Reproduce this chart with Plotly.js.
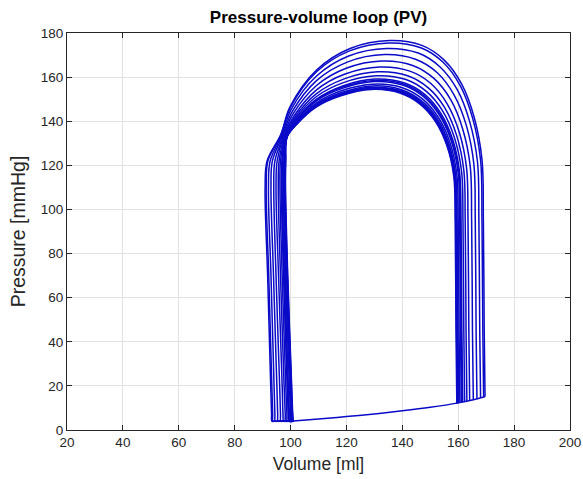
<!DOCTYPE html>
<html>
<head>
<meta charset="utf-8">
<script src="https://cdn.plot.ly/plotly-3.0.1.min.js"></script>
<style>html,body{margin:0;padding:0;background:#fff;}#chart{width:583px;height:479px;}</style>
</head>
<body>
<div id="chart"></div>
<script>
// Common diastolic filling curve
var fillVolume   = [101.0, 110, 120, 130, 140, 150, 160, 165, 169.5];
var fillPressure = [4.1, 5.0, 6.1, 7.3, 8.7, 10.3, 12.3, 13.6, 15.1];

// Each cardiac cycle: end-diastole, up the right side, over the ejection arc,
// down the left side to the start of filling
var loopVolumes = [
  [169.6,169.3,169.0,168.5,165.7,161.2,155.0,147.0,135.5,121.3,109.3,99.8,96.5,91.6,90.9,91.8,92.9,93.2,93.3,94.1,101.0],
  [169.1,168.8,168.5,168.0,165.2,160.7,154.6,146.6,135.2,121.1,109.3,99.9,96.6,91.9,91.3,92.2,93.3,93.6,93.7,94.5,101.0],
  [168.0,167.7,167.4,166.9,164.1,159.7,153.6,145.7,134.4,120.8,109.3,100.2,96.9,92.7,92.1,93.0,94.1,94.4,94.5,95.3,101.0],
  [166.7,166.4,166.1,165.6,162.9,158.5,152.5,144.7,133.6,120.3,109.3,100.6,97.2,93.5,93.0,93.9,95.1,95.4,95.5,96.3,101.0],
  [165.4,165.1,164.8,164.3,161.6,157.3,151.3,143.7,132.7,119.9,109.3,100.9,97.5,94.4,94.0,94.8,96.1,96.4,96.5,97.3,101.0],
  [164.1,163.8,163.5,163.0,160.4,156.1,150.3,142.7,131.9,119.5,109.3,101.3,97.7,95.2,94.8,95.7,97.0,97.3,97.5,98.3,101.0],
  [163.1,162.8,162.5,162.0,159.4,155.2,149.4,141.9,131.2,119.2,109.3,101.5,98.0,95.9,95.6,96.4,97.7,98.1,98.2,99.0,101.0],
  [162.3,162.0,161.7,161.2,158.6,154.4,148.7,141.3,130.7,118.9,109.3,101.7,98.2,96.4,96.2,97.0,98.3,98.7,98.8,99.6,101.0],
  [161.6,161.3,161.0,160.5,158.0,153.8,148.1,140.8,130.2,118.7,109.3,101.9,98.3,96.9,96.7,97.5,98.8,99.2,99.4,101.0],
  [161.4,161.1,160.8,160.3,157.7,153.5,147.8,140.6,130.0,118.6,109.3,102.0,98.4,97.1,96.9,97.7,99.0,99.4,99.6,101.0],
  [161.1,160.8,160.5,160.0,157.5,153.3,147.6,140.4,129.9,118.5,109.3,102.1,98.4,97.2,97.0,97.9,99.2,99.6,99.8,101.0],
  [160.6,160.3,160.0,159.5,157.0,152.8,147.2,140.0,129.5,118.4,109.3,102.2,98.5,97.6,97.4,98.2,99.6,100.0,100.2,101.0],
  [160.2,159.9,159.6,159.1,156.6,152.5,146.8,139.7,129.3,118.2,109.3,102.3,98.6,97.8,97.7,98.5,99.9,100.3,100.5,101.0],
  [160.0,159.7,159.4,158.9,156.3,152.2,146.6,139.5,129.1,118.2,109.3,102.4,98.7,98.0,97.9,98.7,100.1,100.5,100.7,101.0],
  [159.8,159.5,159.2,158.7,156.2,152.1,146.5,139.3,129.0,118.1,109.3,102.4,98.7,98.1,98.0,98.8,100.2,100.6,100.8,101.0],
  [159.7,159.4,159.1,158.6,156.0,151.9,146.3,139.2,128.9,118.0,109.3,102.5,98.8,98.2,98.1,98.9,100.3,100.7,100.9,101.0],
  [159.5,159.2,158.9,158.4,155.9,151.8,146.2,139.1,128.8,118.0,109.3,102.5,98.8,98.3,98.2,99.0,100.4,100.8,101.0]
];
var loopPressures = [
  [15.1,45,95,122.7,141.8,156.9,167.7,174.4,176.6,173.0,163.2,146.5,134.0,122,110,70,20,7,4.0,3.98,4.1],
  [14.9,45,95,122.3,141.2,156.1,166.7,173.3,175.5,171.9,162.4,146.1,133.9,122,110,70,20,7,4.0,3.98,4.1],
  [14.6,45,95,121.5,139.8,154.2,164.5,170.9,173.0,169.6,160.5,145.3,133.8,122,110,70,20,7,4.0,3.98,4.1],
  [14.2,45,95,120.5,138.1,152.0,162.0,168.1,170.2,166.8,158.4,144.3,133.7,122,110,70,20,7,4.0,3.98,4.1],
  [13.8,45,95,119.5,136.5,149.8,159.4,165.3,167.3,164.0,156.2,143.3,133.6,122,110,70,20,7,4.0,3.98,4.1],
  [13.4,45,95,118.6,134.9,147.8,157.0,162.7,164.6,161.4,154.2,142.5,133.5,122,110,70,20,7,4.0,3.98,4.1],
  [13.1,45,95,117.8,133.7,146.1,155.0,160.6,162.4,159.2,152.5,141.7,133.4,122,110,70,20,7,4.0,3.98,4.1],
  [12.9,45,95,117.2,132.7,144.7,153.4,158.9,160.6,157.5,151.2,141.1,133.3,122,110,70,20,7,4.0,3.98,4.1],
  [12.7,45,95,116.7,131.8,143.6,152.1,157.3,159.1,156.0,150.0,140.6,133.2,122,110,70,20,7,4.0,4.1],
  [12.6,45,95,116.5,131.5,143.1,151.6,156.8,158.5,155.5,149.6,140.4,133.2,122,110,70,20,7,4.0,4.1],
  [12.5,45,95,116.3,131.1,142.7,151.1,156.3,158.0,154.9,149.2,140.2,133.2,122,110,70,20,7,4.0,4.1],
  [12.3,45,95,115.9,130.5,141.9,150.1,155.2,156.8,153.9,148.3,139.8,133.1,122,110,70,20,7,4.0,4.1],
  [12.2,45,95,115.6,130.0,141.2,149.3,154.3,156.0,153.0,147.7,139.5,133.1,122,110,70,20,7,4.0,4.1],
  [12.1,45,95,115.4,129.7,140.8,148.8,153.8,155.4,152.5,147.3,139.3,133.0,122,110,70,20,7,4.0,4.1],
  [12.1,45,95,115.3,129.5,140.5,148.5,153.5,155.1,152.1,147.0,139.2,133.0,122,110,70,20,7,4.0,4.1],
  [12.05,45,95,115.2,129.3,140.3,148.2,153.1,154.7,151.8,146.8,139.1,133.0,122,110,70,20,7,4.0,4.1],
  [12.0,45,95,115.1,129.1,140.0,147.9,152.8,154.4,151.5,146.5,139.0,133.0,122,110,70,20,7,4.1]
];

var xTicks = [20, 40, 60, 80, 100, 120, 140, 160, 180, 200];
var yTicks = [0, 20, 40, 60, 80, 100, 120, 140, 160, 180];

var lineColor = 'rgb(10,10,200)';
var lineStyle = {color: lineColor, width: 1.5, shape: 'spline', smoothing: 1};
var traces = [{
  x: fillVolume, y: fillPressure, type: 'scatter', mode: 'lines',
  line: lineStyle, hoverinfo: 'skip'
}];
for (var i = 0; i < loopVolumes.length; i++) {
  traces.push({
    x: loopVolumes[i], y: loopPressures[i], type: 'scatter', mode: 'lines',
    line: lineStyle, hoverinfo: 'skip'
  });
}

var fontFamily = 'Liberation Sans, Arial, sans-serif';
var axisCommon = {
  ticks: 'inside', ticklen: 5, tickwidth: 1, tickcolor: '#262626',
  showline: true, linecolor: '#262626', linewidth: 1, mirror: 'ticks',
  showgrid: true, gridcolor: '#e1e1e1', gridwidth: 1, zeroline: false,
  tickfont: {family: fontFamily, size: 13.5, color: '#262626'}
};

var layout = {
  width: 583, height: 479,
  margin: {l: 67, r: 13, t: 33, b: 49},
  paper_bgcolor: '#ffffff', plot_bgcolor: '#ffffff',
  showlegend: false,
  font: {family: fontFamily, color: '#262626'},
  title: {
    text: '<b>Pressure-volume loop (PV)</b>',
    font: {family: fontFamily, size: 17, color: '#000000'},
    x: 0.5, xref: 'paper', xanchor: 'center',
    y: 1 - 17 / 479, yref: 'container', yanchor: 'middle'
  },
  xaxis: Object.assign({}, axisCommon, {
    range: [20, 200], tickvals: xTicks, ticktext: xTicks.map(String),
    title: {text: 'Volume [ml]', font: {family: fontFamily, size: 17.5, color: '#262626'}, standoff: 8}
  }),
  yaxis: Object.assign({}, axisCommon, {
    range: [0, 180], tickvals: yTicks, ticktext: yTicks.map(String),
    title: {text: 'Pressure [mmHg]', font: {family: fontFamily, size: 19.5, color: '#262626'}, standoff: 9}
  })
};

Plotly.newPlot('chart', traces, layout, {staticPlot: true, displayModeBar: false});
</script>
</body>
</html>
